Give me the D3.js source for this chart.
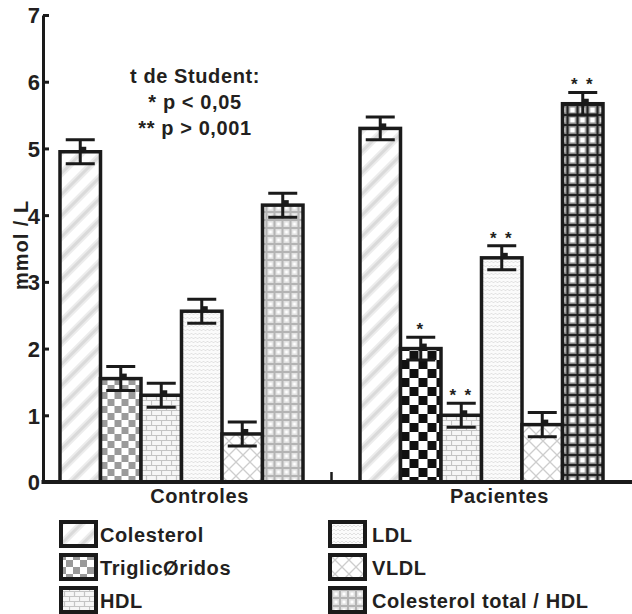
<!DOCTYPE html>
<html>
<head>
<meta charset="utf-8">
<script src="https://cdn.jsdelivr.net/npm/d3@7/dist/d3.min.js"></script>
<style>
  body { margin: 0; background: #fff; }
  text { font-family: "Liberation Sans", Arial, sans-serif; font-weight: bold; fill: #231f20; }
</style>
</head>
<body>
<script>
const groups = ["Controles", "Pacientes"];
const series = ["Colesterol", "TriglicØridos", "HDL", "LDL", "VLDL", "Colesterol total / HDL"];
const controles = [4.95, 1.55, 1.30, 2.56, 0.72, 4.15];
const pacientes = [5.30, 2.00, 1.00, 3.36, 0.86, 5.67];
const errControles = [0.18, 0.18, 0.18, 0.18, 0.18, 0.18];
const errPacientes = [0.17, 0.17, 0.18, 0.18, 0.18, 0.17];
const sigPacientes = [0, 1, 2, 2, 0, 2];
const yTicks = [0, 1, 2, 3, 4, 5, 6, 7];
const noteLines = ["t de Student:", "* p < 0,05", "** p > 0,001"];

const width = 632, height = 614;
const ink = "#1a1a1a";

const svg = d3.select("body").append("svg")
  .attr("width", width)
  .attr("height", height);

const y = d3.scaleLinear().domain([0, 7]).range([482, 15]);
const x0 = d3.scaleBand().domain(groups).range([31.5, 631.5])
  .paddingInner(0.19).paddingOuter(0.095);
const x1 = d3.scaleBand().domain(series).range([0, x0.bandwidth()]);

// fill patterns, one per series (darker ink for some Pacientes bars)
const defs = svg.append("defs");
function pattern(id, kind, tone) {
  const p = defs.append("pattern").attr("id", id).attr("patternUnits", "userSpaceOnUse");
  if (kind === 0) {
    p.attr("width", 15).attr("height", 15).attr("patternTransform", "rotate(45)");
    p.append("rect").attr("width", 15).attr("height", 15).attr("fill", "#fff");
    p.append("rect").attr("x", 0).attr("width", 7).attr("height", 15).attr("fill", "#ececec");
    p.append("rect").attr("x", 2).attr("width", 3).attr("height", 15).attr("fill", "#dadada");
  } else if (kind === 1) {
    const s = tone === "dark" ? 9 : 7;
    const c = tone === "dark" ? "#111" : "#9a9a9a";
    p.attr("width", 2 * s).attr("height", 2 * s);
    p.append("rect").attr("width", 2 * s).attr("height", 2 * s).attr("fill", "#fff");
    p.append("rect").attr("width", s).attr("height", s).attr("fill", c);
    p.append("rect").attr("x", s).attr("y", s).attr("width", s).attr("height", s).attr("fill", c);
  } else if (kind === 2) {
    p.attr("width", 10).attr("height", 10);
    p.append("rect").attr("width", 10).attr("height", 10).attr("fill", "#f6f6f6");
    p.append("path").attr("d", "M0,0.5H10M0,5.5H10M0.5,0.5V5.5M5.5,5.5V10.5")
      .attr("stroke", "#c4c4c4").attr("stroke-width", 1.2).attr("fill", "none");
  } else if (kind === 3) {
    p.attr("width", 8).attr("height", 8);
    p.append("rect").attr("width", 8).attr("height", 8).attr("fill", "#fbfbfb");
    p.append("path").attr("d", "M0,3L2,1L4,3L6,1L8,3M0,7L2,5L4,7L6,5L8,7")
      .attr("stroke", "#e2e2e2").attr("stroke-width", 1).attr("fill", "none");
  } else if (kind === 4) {
    p.attr("width", 14).attr("height", 14);
    p.append("rect").attr("width", 14).attr("height", 14).attr("fill", "#fff");
    p.append("path").attr("d", "M0,0L14,14M14,0L0,14")
      .attr("stroke", "#cdcdcd").attr("stroke-width", 1.3);
  } else {
    const s = tone === "dark" ? 10 : 8;
    const c = tone === "dark" ? "#222" : "#b4b4b4";
    const halo = tone === "dark" ? "#8a8a8a" : "#e0e0e0";
    p.attr("width", s).attr("height", s);
    p.append("rect").attr("width", s).attr("height", s).attr("fill", "#fff");
    p.append("rect").attr("y", s / 2 - 2.5).attr("width", s).attr("height", 5).attr("fill", halo);
    p.append("rect").attr("x", s / 2 - 2.5).attr("width", 5).attr("height", s).attr("fill", halo);
    p.append("rect").attr("y", s / 2 - 1).attr("width", s).attr("height", 2).attr("fill", c);
    p.append("rect").attr("x", s / 2 - 1).attr("width", 2).attr("height", s).attr("fill", c);
  }
  return "url(#" + id + ")";
}

const darkInPacientes = [false, true, false, false, false, true];
const fills = {};
groups.forEach((g, gi) => {
  fills[g] = series.map((s, i) =>
    pattern("p" + gi + "-" + i, i, gi === 1 && darkInPacientes[i] ? "dark" : "light"));
});

const rows = [];
groups.forEach((g, gi) => {
  const vals = gi === 0 ? controles : pacientes;
  const errs = gi === 0 ? errControles : errPacientes;
  series.forEach((s, i) => {
    rows.push({ group: g, series: s, i: i, value: vals[i], err: errs[i],
      sig: gi === 1 ? sigPacientes[i] : 0 });
  });
});

const bars = svg.append("g").selectAll("g")
  .data(rows)
  .enter().append("g")
  .attr("transform", d => `translate(${x0(d.group) + x1(d.series)},0)`);

bars.append("rect")
  .attr("x", 0)
  .attr("y", d => y(d.value))
  .attr("width", x1.bandwidth())
  .attr("height", d => y(0) - y(d.value))
  .attr("fill", d => fills[d.group][d.i])
  .attr("stroke", ink)
  .attr("stroke-width", 3.5);

const cx = x1.bandwidth() / 2;
bars.append("path")
  .attr("d", d => `M${cx - 14.5},${y(d.value + d.err)}H${cx + 14.5}M${cx},${y(d.value + d.err)}V${y(d.value - d.err)}M${cx - 14.5},${y(d.value - d.err)}H${cx + 14.5}`)
  .attr("stroke", ink)
  .attr("stroke-width", 3)
  .attr("fill", "none");

bars.append("rect")
  .attr("x", cx)
  .attr("y", d => y(d.value) - 5)
  .attr("width", 6)
  .attr("height", 5)
  .attr("fill", ink);

bars.each(function (d) {
  for (let k = 0; k < d.sig; k++) {
    d3.select(this).append("text")
      .attr("x", cx - 1 + (k - (d.sig - 1) / 2) * 15)
      .attr("y", y(d.value + d.err) - 2)
      .attr("text-anchor", "middle")
      .attr("font-size", 17)
      .text("*");
  }
});

// axes
const yAxis = svg.append("g")
  .attr("transform", "translate(43,0)")
  .call(d3.axisLeft(y).tickValues(yTicks).tickSizeInner(-6).tickSizeOuter(0)
    .tickPadding(3).tickFormat(d3.format("d")));
yAxis.attr("font-family", null).attr("font-size", null);
yAxis.select(".domain").attr("stroke", ink).attr("stroke-width", 3);
yAxis.selectAll(".tick line").attr("stroke", ink).attr("stroke-width", 3);
yAxis.selectAll(".tick text")
  .attr("fill", null)
  .attr("dy", "0.36em")
  .style("font-size", "22px")
  .style("font-weight", "bold");

const split = x0(groups[1]) - x0.step() * x0.paddingInner() / 2;
svg.append("path")
  .attr("d", `M41.5,${y(0)}H${width}`)
  .attr("stroke", ink)
  .attr("stroke-width", 4)
  .attr("fill", "none");
svg.append("path")
  .attr("d", `M${split},${y(0)}V${y(0) - 10}`)
  .attr("stroke", ink)
  .attr("stroke-width", 2.5);

svg.append("g").selectAll("text")
  .data(groups)
  .enter().append("text")
  .attr("x", d => x0(d) + x0.bandwidth() / 2 + 18)
  .attr("y", 503)
  .attr("text-anchor", "middle")
  .attr("font-size", 20)
  .attr("letter-spacing", 0.6)
  .text(d => d);

svg.append("text")
  .attr("transform", "translate(28,245) rotate(-90)")
  .attr("text-anchor", "middle")
  .attr("font-size", 20)
  .attr("letter-spacing", 1)
  .text("mmol / L");

svg.append("g").selectAll("text")
  .data(noteLines)
  .enter().append("text")
  .attr("x", 195)
  .attr("y", (d, i) => 83 + i * 26)
  .attr("text-anchor", "middle")
  .attr("font-size", 20)
  .attr("letter-spacing", 0.6)
  .text(d => d);

// legend
const legend = svg.append("g").selectAll("g")
  .data(series)
  .enter().append("g")
  .attr("transform", (d, i) => `translate(${i < 3 ? 59 : 328},${520 + (i % 3) * 33})`);

legend.append("rect")
  .attr("x", 2).attr("y", 2)
  .attr("width", 35).attr("height", 24)
  .attr("fill", (d, i) => fills[groups[0]][i])
  .attr("stroke", ink)
  .attr("stroke-width", 4);

legend.append("text")
  .attr("x", (d, i) => i < 3 ? 41 : 44)
  .attr("y", 22)
  .attr("font-size", 20)
  .attr("letter-spacing", 0.6)
  .text(d => d);
</script>
</body>
</html>
